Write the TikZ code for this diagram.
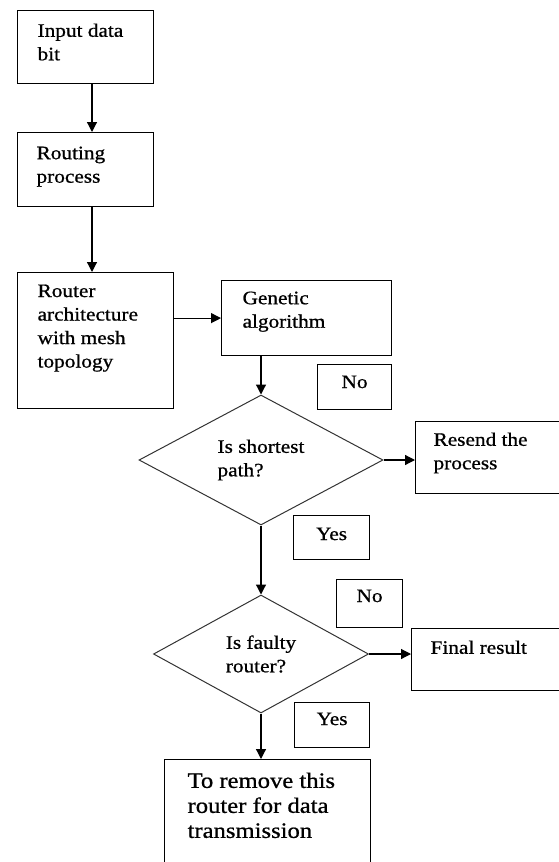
\documentclass[tikz,border=0pt]{standalone}
\usepackage{fontspec}
\setmainfont{Liberation Serif}[FakeStretch=1.12, FakeBold=0.8]
\usetikzlibrary{shapes.geometric, arrows.meta}

% text block inside a box: width, height, left pad, top pad, text
\newcommand{\boxtext}[5]{\parbox[c][#2][t]{#1}{\vspace*{#4}\raggedright\leftskip=#3 #5}}
% centred answer tag: width, height, top pad, text
\newcommand{\tagtext}[4]{\parbox[c][#2][t]{#1}{\vspace*{#3}\centering #4}}

\begin{document}
\begin{tikzpicture}[x=1pt, y=-1pt,
	every node/.style={font=\rmfamily\fontsize{19pt}{23.5pt}\selectfont},
	bigtext/.style={font=\rmfamily\fontsize{22pt}{25pt}\selectfont},
	box/.style={draw, line width=1.2pt, anchor=north west, inner sep=0pt},
	decision/.style={draw=black!80, line width=1pt, shape=diamond, align=left, inner sep=0pt},
	flow/.style={line width=1.2pt, -{Triangle[length=10pt, width=10pt]}}]

	\useasboundingbox (0,0) rectangle (559,862);
	\clip (0,0) rectangle (559,862);

% Define coordinates.

	%left column of arrows
	\coordinate (spine) at (92,0);

% Draw boxes.

	\node[box] (input) at (17,10) {\boxtext{136pt}{73pt}{20pt}{13pt}{Input data\\bit}};
	\node[box] (routing) at (17,132) {\boxtext{136pt}{74pt}{19pt}{14pt}{Routing\\process}};
	\node[box] (router) at (17,272) {\boxtext{156pt}{136pt}{20pt}{12pt}{Router\\architecture\\with mesh\\topology}};
	\node[box] (genetic) at (221,280) {\boxtext{170pt}{75pt}{21pt}{11pt}{Genetic\\algorithm}};
	\node[box] (resend) at (415,421) {\boxtext{160pt}{72pt}{18pt}{11pt}{Resend the\\process}};
	\node[box] (final) at (411,628) {\boxtext{160pt}{62pt}{19pt}{12pt}{Final result}};
	\node[box, bigtext] (remove) at (164,759) {\boxtext{206pt}{130pt}{23pt}{13pt}{To remove this\\router for data\\transmission}};

% Draw decisions.

	\node[decision, minimum width=244pt, minimum height=130pt] (shortest) at (261,460) {Is shortest\\path?};
	\node[decision, minimum width=215pt, minimum height=118pt] (faulty) at (261,654) {Is faulty\\router?};

% Draw answer tags.

	\node[box] (no1) at (317,364) {\tagtext{74pt}{45pt}{11pt}{No}};
	\node[box] (yes1) at (293,515) {\tagtext{76pt}{44pt}{12pt}{Yes}};
	\node[box] (no2) at (336,579) {\tagtext{66pt}{48pt}{10pt}{No}};
	\node[box] (yes2) at (294,702) {\tagtext{75pt}{45pt}{10pt}{Yes}};

% Draw arrows.

	\draw[flow] (input.south -| spine) -- (routing.north -| spine);
	\draw[flow] (routing.south -| spine) -- (router.north -| spine);
	\draw[flow] (genetic.west -| router.east) -- (genetic.west);
	\draw[flow] (shortest.north |- genetic.south) -- (shortest.north);
	\draw[flow] (shortest.east) -- (shortest.east -| resend.west);
	\draw[flow] (shortest.south) -- (faulty.north);
	\draw[flow] (faulty.east) -- (faulty.east -| final.west);
	\draw[flow] (faulty.south) -- (faulty.south |- remove.north);

\end{tikzpicture}
\end{document}
